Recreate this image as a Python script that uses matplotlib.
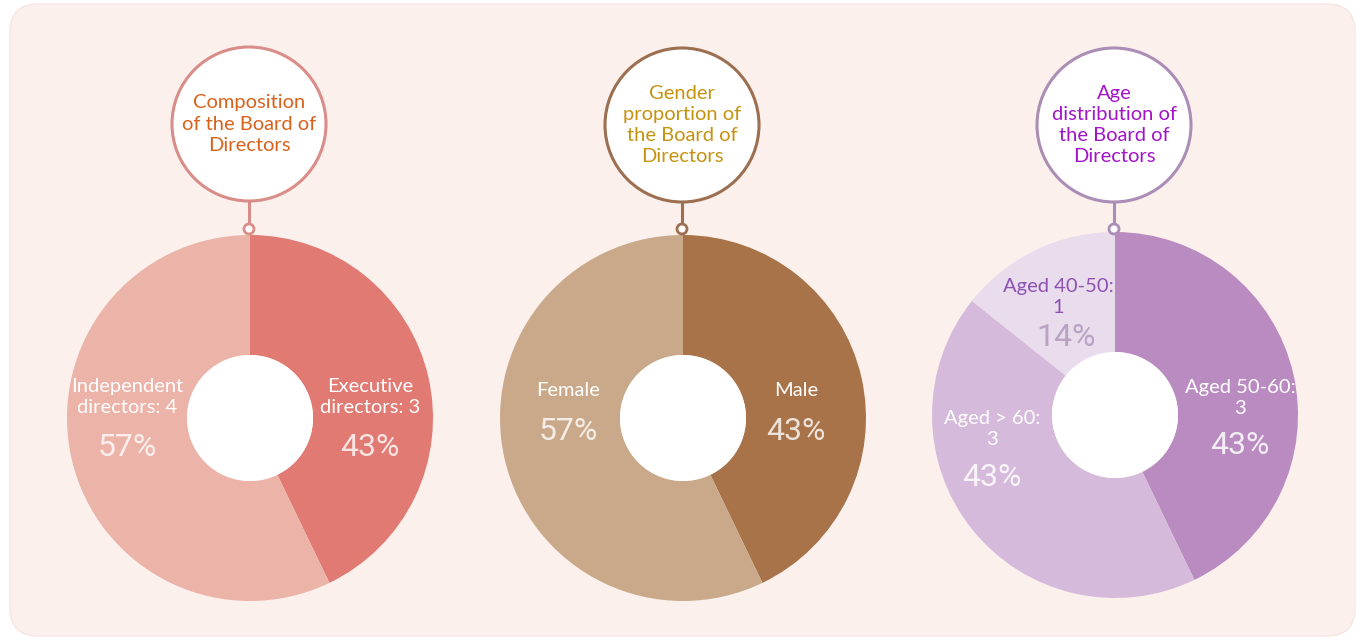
import matplotlib
matplotlib.use("Agg")
import matplotlib.pyplot as plt
from matplotlib.patches import Circle, FancyBboxPatch

# ---- data ----
board_labels = ["Executive\ndirectors", "Independent\ndirectors"]
board_counts = [3, 4]
gender_labels = ["Male", "Female"]
gender_counts = [3, 4]
age_labels = ["Aged 50-60", "Aged > 60", "Aged 40-50"]
age_counts = [3, 3, 1]

titles = ["Composition\nof the Board of\nDirectors",
          "Gender\nproportion of\nthe Board of\nDirectors",
          "Age\ndistribution of\nthe Board of\nDirectors"]

W, H = 1363, 640
fig = plt.figure(figsize=(W / 100, H / 100), dpi=100)
fig.patch.set_facecolor("white")
ax = fig.add_axes([0, 0, 1, 1])

LABEL_FONT = ["Lato", "DejaVu Sans"]
PCT_FONT = ["Roboto", "DejaVu Sans"]


def Y(y):
    return H - y


# rounded background panel
panel = FancyBboxPatch((10, Y(636)), 1345, 632,
                       boxstyle="round,pad=0,rounding_size=28",
                       facecolor="#fcf0ed", edgecolor="#f6e6e2", lw=1, zorder=0)
ax.add_patch(panel)

charts = [
    dict(cx=250, cy=418, counts=board_counts, labels=board_labels,
         colors=["#e07a72", "#ecb3a9"], edge="#d98d88", tcolor="#d8621c",
         tcy=124, title=titles[0]),
    dict(cx=683, cy=418, counts=gender_counts, labels=gender_labels,
         colors=["#a87349", "#c9a989"], edge="#9c6f50", tcolor="#c49310",
         tcy=125, title=titles[1]),
    dict(cx=1115, cy=415, counts=age_counts, labels=age_labels,
         colors=["#ba8bc0", "#d6badb", "#e9dcec"], edge="#ab8db5", tcolor="#a214c9",
         tcy=125, title=titles[2]),
]

R_OUT, R_IN = 183, 63
R_TITLE = 77

for c in charts:
    cx, cy = c["cx"], Y(c["cy"])
    ax.pie(c["counts"], colors=c["colors"], startangle=90, counterclock=False,
           center=(cx, cy), radius=R_OUT,
           wedgeprops=dict(width=R_OUT - R_IN, linewidth=0))
    ax.add_patch(Circle((cx, cy), R_IN, facecolor="white", edgecolor="none", zorder=3))

    # title bubble with stem
    tcy = Y(c["tcy"])
    ax.add_patch(Circle((cx - 1, tcy), R_TITLE, facecolor="white",
                        edgecolor=c["edge"], lw=2.2, zorder=4))
    ax.plot([cx - 1, cx - 1], [tcy - R_TITLE, Y(224)], color=c["edge"], lw=2.2, zorder=4)
    ax.add_patch(Circle((cx - 1, Y(229)), 5, facecolor="white",
                        edgecolor=c["edge"], lw=2, zorder=5))
    ax.text(cx - 1, tcy, c["title"], ha="center", va="center", fontsize=14.5,
            color=c["tcolor"], family=LABEL_FONT, linespacing=1.3, zorder=6)

# slice labels: (chart index, slice index, text x, label centre y, pct y, label colour, pct colour)
label_spots = [
    (0, 0, 370, 397, 448, "white", (1, 1, 1, 0.8)),
    (0, 1, 127, 397, 448, "white", (1, 1, 1, 0.8)),
    (1, 0, 796, 391, 432, "white", (1, 1, 1, 0.8)),
    (1, 1, 568, 391, 432, "white", (1, 1, 1, 0.8)),
    (2, 0, 1240, 398, 445, "white", (1, 1, 1, 0.85)),
    (2, 1, 992, 429, 477, "white", (1, 1, 1, 0.85)),
    (2, 2, 1058, 297, 338, "#8d52b3", "#b9a2c3"),
]

for ci, si, tx, ty, py, lc, pc in label_spots:
    c = charts[ci]
    counts = c["counts"]
    lab = c["labels"][si]
    n = counts[si]
    pct = round(100 * n / sum(counts))
    if ci == 1:
        txt = lab
    elif ci == 0:
        txt = f"{lab}: {n}"
    else:
        txt = f"{lab}:\n{n}"
    ax.text(tx, Y(ty), txt, ha="center", va="center", fontsize=14.5, color=lc,
            family=LABEL_FONT, linespacing=1.3, zorder=6)
    ax.text(tx + (8 if ci == 2 and si == 2 else 0), Y(py), f"{pct}%", ha="center",
            va="center", fontsize=23, color=pc, family=PCT_FONT, zorder=6)

ax.set_xlim(0, W)
ax.set_ylim(0, H)
ax.set_aspect("auto")
ax.axis("off")

fig.savefig("out.png", dpi=100, facecolor="white")
